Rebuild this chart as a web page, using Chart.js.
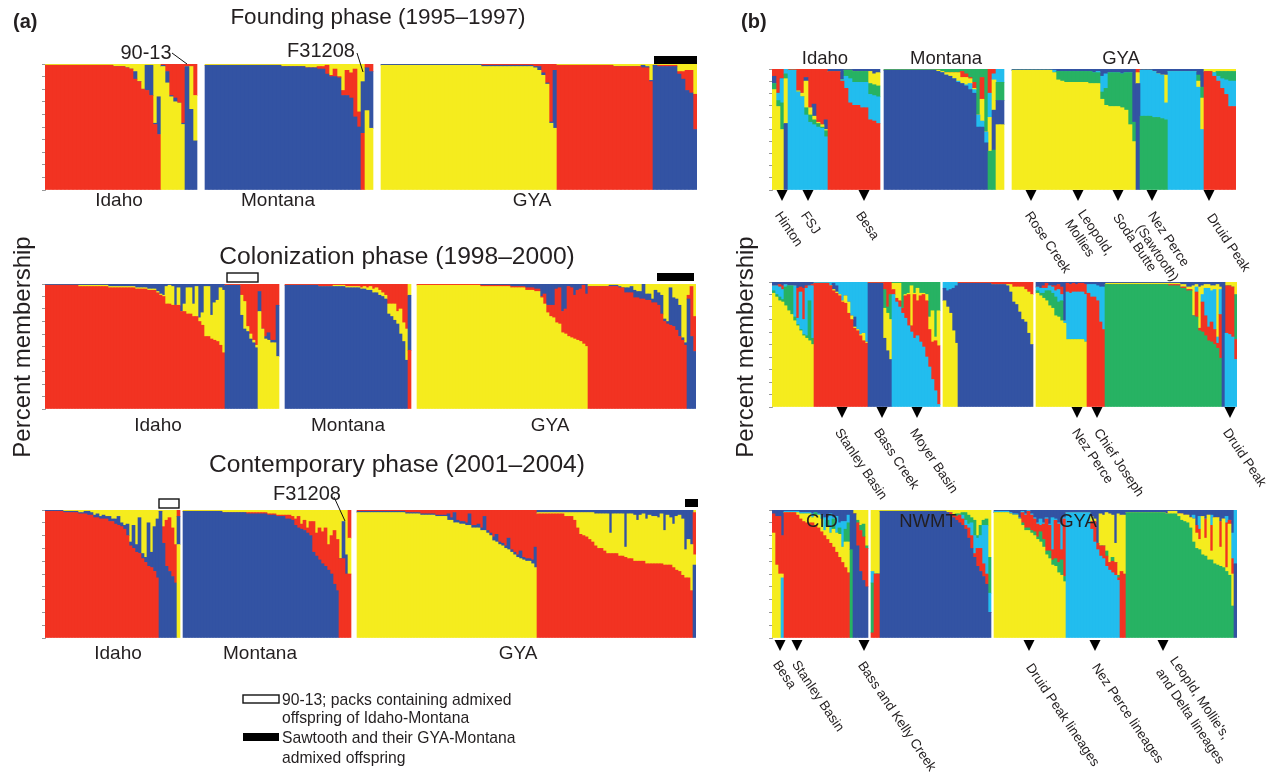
<!DOCTYPE html>
<html>
<head>
<meta charset="utf-8">
<script src="https://cdn.jsdelivr.net/npm/chart.js@4"></script>
<style>
  html, body { margin: 0; background: #fff; }
  #page { position: relative; width: 1272px; height: 773px; overflow: hidden; font-family: "Liberation Sans", Arial, sans-serif; color: #231f20; }
  #page canvas { position: absolute; }
  #marks { position: absolute; left: 0; top: 0; }
  .t { position: absolute; white-space: nowrap; line-height: 1; z-index: 2; }
</style>
</head>
<body>
<div id="page"></div>
<script>
const RED = '#f23322', BLU = '#3353a3', YEL = '#f5ec1e', GRN = '#27b263', CYA = '#22bdee';

// (a) founding phase
const fIdRed_red = [99,99,99,99,99,99,99,99,99,99,99,99,99,99,99,99,99,98,98,98,97,96,88,86,80,79,75,52,44];
const fIdRed_blu = [0,0,0,0,0,0,0,0,0,0,0,0,0,0,0,0,0,0,0,0,0,0,6,0,0,20,24,1,30];
const fIdYel_yel = [98,85,74,70,69,52];
const fIdYel_blu = [1,9,1,3,0,1];
const fIdBlu_blu = [98,64,39];
const fIdBlu_yel = [0,34,36];
const fMtBlu_blu = [99,99,99,99,99,99,99,99,99,99,99,99,99,99,99,99,99,99,99,98,98,98,98,98,98,97,97,97,96,96,92,90,90,89,75,75,73,58,50];
const fMtBlu_red = [0,0,0,0,0,0,0,0,0,0,0,0,0,0,0,0,0,0,0,0,0,0,0,0,0,0,0,0,2,2,7,1,6,1,4,20,20,38,12];
const fMtRed_red = [45];
const fMtRed_blu = [41];
const fMtYel_yel = [63,49];
const fMtYel_blu = [34,45];
const fGyYel_yel = [99,99,99,99,99,99,99,99,99,99,99,99,99,99,99,99,99,99,99,99,99,99,99,99,99,98,98,98,98,98,98,98,98,98,98,98,98,98,97,95,91,84,53,49];
const fGyYel_blu = [1,1,1,1,1,1,1,1,1,1,1,1,1,1,1,1,1,1,1,1,1,1,1,1,1,1,1,1,1,1,1,1,1,1,1,1,1,1,1,3,2,1,1,46];
const fGyRed_red = [99,99,99,99,99,99,99,99,99,99,99,99,99,99,98,98,98,98,98,98,98,97,97,86];
const fGyRed_blu = [0,0,0,0,0,0,0,0,0,0,0,0,0,0,0,0,0,0,0,0,0,2,1,1];
const fGyBlu_blu = [99,98,98,98,98,98,92,88,79,77,48];
const fGyBlu_red = [0,1,1,1,1,1,2,6,16,18,28];

// (a) colonization phase
const cIdRed_red = [99,99,99,99,99,99,99,99,99,99,99,98,98,98,98,98,98,98,98,98,98,97,97,97,97,97,97,97,97,97,96,96,96,96,95,95,95,93,91,90,84,84,83,83,83,78,78,76,76,74,74,70,67,58,58,56,55,54,51,45];
const cIdRed_yel = [0,0,0,0,0,0,0,0,0,0,0,1,1,1,1,1,1,1,1,1,1,1,1,1,1,1,1,1,1,1,1,1,1,1,1,1,1,1,1,1,14,15,15,0,14,0,6,21,21,10,24,3,10,40,40,19,30,33,46,50];
const cIdBlu_blu = [99,99,99,99,99,75,64,62,56,53,49];
const cIdBlu_yel = [0,0,0,0,0,16,22,4,4,2,2];
const cIdYel_yel = [78,64,56,55,53,53,42];
const cIdYel_blu = [16,0,2,6,2,2,41];
const cMtBlu_blu = [99,99,99,99,99,99,99,99,99,99,99,98,98,98,98,98,98,98,98,98,97,97,97,97,97,96,96,95,95,93,93,91,90,88,76,74,71,68,60,54,39];
const cMtBlu_yel = [0,0,0,0,0,0,0,0,0,0,0,0,0,0,0,0,1,1,1,1,1,1,1,1,1,1,2,2,3,3,4,4,3,3,8,10,13,10,20,15,25];
const cMtRed_red = [47];
const cMtRed_blu = [44];
const cGyYel_yel = [99,99,99,99,99,99,99,99,99,99,99,99,99,99,99,99,99,99,99,99,99,98,98,98,98,98,98,98,98,98,98,97,97,97,97,97,95,95,95,94,94,89,84,77,74,73,69,68,61,60,58,57,56,55,54,52,50];
const cGyYel_red = [1,1,1,1,1,1,1,1,1,1,1,1,1,1,1,1,1,1,1,1,1,1,1,1,1,1,1,1,1,1,1,1,1,1,1,1,2,2,2,2,2,1,8,6,9,10,27,29,17,20,40,40,35,40,42,47,42];
const cGyRed_red = [98,98,98,98,98,98,98,98,98,98,97,97,93,93,93,89,89,88,88,87,87,85,85,83,76,70,68,67,66,63,58,55,51];
const cGyRed_blu = [0,0,0,0,0,0,0,1,1,1,1,0,4,4,5,6,5,6,12,5,5,3,10,10,15,2,2,30,23,25,25,2,2];
const cGyBlu_blu = [88,58,46];
const cGyBlu_red = [3,40,28];

// (a) contemporary phase
const nIdRed_red = [99,99,99,99,99,99,98,98,98,98,98,97,97,97,96,96,94,94,93,93,93,91,91,89,88,87,85,80,72,70,67,66,62,59,56,55,52,47];
const nIdRed_blu = [1,1,1,1,1,1,1,1,1,1,1,1,1,2,3,2,2,3,2,3,2,4,2,4,7,3,3,9,3,18,6,28,4,4,34,12,35,46];
const nIdBlu_blu = [99,74,56,52,48,43];
const nIdBlu_red = [0,13,36,42,38,30];
const nIdYel_yel = [73];
const nIdYel_blu = [22];
const nMtBlu_blu = [99,99,99,99,99,99,99,99,99,99,99,99,99,98,98,98,98,98,98,98,98,97,97,97,97,97,97,97,96,96,96,95,95,95,93,93,92,88,86,85,84,82,80,67,64,61,58,56,53,50,42,37];
const nMtBlu_red = [0,0,0,0,0,0,0,0,0,0,0,0,0,0,0,0,0,0,0,0,0,1,1,1,1,1,1,1,1,1,1,1,1,1,3,3,3,5,9,4,8,4,11,24,18,25,25,30,20,30,42,40];
const nMtRed_red = [62,62,50];
const nMtRed_blu = [0,29,15];
const nMtEnd_red = [50];
const nMtEnd_yel = [28];
const nGyYel_yel = [98,98,98,98,98,98,98,98,98,98,98,98,98,98,98,98,97,97,97,97,97,96,96,96,96,96,95,95,95,95,92,92,90,90,89,89,88,88,86,86,86,84,84,82,80,76,75,73,72,70,69,67,65,63,62,61,60,60,58,55];
const nGyYel_blu = [1,1,1,1,1,1,1,1,1,1,1,1,1,1,1,1,1,1,1,1,1,1,1,1,1,1,1,1,1,1,5,2,8,2,2,2,2,9,2,2,3,2,11,2,2,3,6,2,2,2,9,2,2,2,6,2,2,2,3,16];
const nGyRed_red = [97,97,97,97,97,97,97,97,97,95,95,95,92,86,81,80,79,77,75,72,70,70,68,66,66,66,66,64,64,63,62,62,60,60,60,60,58,58,58,58,58,58,57,57,57,55,53,52,49,47,47,37];
const nGyRed_yel = [1,1,1,1,1,1,1,1,1,3,3,3,6,12,17,18,19,21,23,25,27,27,29,31,16,31,31,33,33,8,35,35,36,32,36,37,35,38,37,37,36,39,27,39,37,34,42,44,44,22,30,36];
const nGyBlu_blu = [57];
const nGyBlu_yel = [8];
const nGyBlu_red = [33];

// (b) founding phase
const bfIdYel_yel = [83,69,50];
const bfIdYel_grn = [5,5,22];
const bfIdYel_cya = [0,6,20];
const bfIdYel_blu = [6,0,0];
const bfIdBlu_blu = [55];
const bfIdBlu_yel = [37];
const bfIdBlu_grn = [4];
const bfIdCya_cya = [99,99,81,77,62,56,54,52,51,44];
const bfIdCya_grn = [0,0,0,0,6,6,4,3,1,5];
const bfIdCya_yel = [0,0,1,3,22,6,3,1,2,1];
const bfIdCya_blu = [0,0,0,0,3,0,10,0,0,8];
const bfIdRed_red = [98,98,98,90,84,72,70,70,68,68,58,57,55];
const bfIdRed_cya = [0,0,0,1,10,20,19,19,21,21,21,21,22];
const bfIdRed_grn = [0,0,0,0,5,7,9,9,9,9,9,9,9];
const bfIdRed_yel = [0,0,0,0,0,0,0,0,0,0,10,9,11];
const bfMtBlu_blu = [99,99,99,99,99,99,99,99,99,99,99,99,99,98,97,95,94,92,89,88,86,83,80,52,52,39];
const bfMtBlu_cya = [0,0,0,0,0,0,0,0,0,0,0,0,0,0,0,0,0,0,1,0,1,5,3,10,5,9];
const bfMtBlu_yel = [0,0,0,0,0,0,0,0,0,0,0,0,0,1,1,2,3,5,7,5,6,4,1,0,18,0];
const bfMtBlu_red = [0,0,0,0,0,0,0,0,0,0,0,0,0,0,0,0,0,0,0,5,3,1,5,0,18,0];
const bfMtGrn_grn = [32,33];
const bfMtGrn_blu = [0,33];
const bfMtGrn_yel = [28,25];
const bfMtGrn_cya = [20,5];
const bfMtYel_yel = [54,54];
const bfMtYel_blu = [20,20];
const bfMtYel_grn = [15,15];
const bfGyYel_yel = [99,99,99,99,99,99,99,99,99,99,97,91,90,89,89,89,89,89,89,88,88,88,75,70,69,69,69,68,66,54,40];
const bfGyYel_grn = [0,0,0,0,0,0,0,0,0,0,0,7,8,9,9,9,9,9,9,10,9,9,6,14,28,28,28,28,31,43,16];
const bfGyYel_cya = [0,0,0,0,0,0,0,0,0,0,2,0,0,0,0,0,0,0,0,0,0,1,13,12,0,0,0,0,0,0,0];
const bfGyBlu_blu = [88];
const bfGyBlu_yel = [9];
const bfGyGrn_grn = [61,61,61,60,60,59,58];
const bfGyGrn_cya = [38,38,38,38,36,36,14];
const bfGyGrn_yel = [0,0,0,0,0,0,23];
const bfGyCya_cya = [98,98,98,98,98,98,98,85,50];
const bfGyCya_yel = [0,0,0,0,0,0,0,5,26];
const bfGyCya_grn = [0,0,0,0,0,0,0,5,9];
const bfGyRed_red = [98,98,94,90,84,79,69,69];
const bfGyRed_cya = [0,0,3,4,8,12,21,21];
const bfGyRed_grn = [0,0,0,4,6,7,8,8];

// (b) colonization phase
const bcIdYel_yel = [91,88,85,84,81,77,74,69,65,61,57,55,53,50];
const bcIdYel_grn = [2,2,3,2,15,20,23,3,1,1,1,2,32,5];
const bcIdYel_cya = [4,7,8,8,2,0,0,25,5,30,12,38,12,42];
const bcIdYel_red = [0,0,2,3,0,0,0,0,24,4,25,2,0,1];
const bcIdRed_red = [99,99,99,99,99,97,93,91,89,84,83,75,70,63,61,57,53,51];
const bcIdRed_yel = [0,0,0,0,0,0,1,1,1,1,6,9,3,1,1,1,6,1];
const bcIdRed_blu = [0,0,0,0,0,0,5,5,0,0,0,0,0,8,0,0,0,0];
const bcIdBlu_blu = [99,99,99,99,99,55,45,38];
const bcIdBlu_yel = [0,0,0,0,0,24,30,32];
const bcIdBlu_grn = [0,0,0,0,0,15,5,20];
const bcIdCya_cya = [90,84,80,75,71,65,60,55,57,52,48,40,32,22,13,2];
const bcIdCya_red = [4,3,5,4,18,25,5,35,28,37,42,45,30,30,40,47];
const bcIdCya_yel = [5,12,14,0,1,1,32,1,10,2,1,5,10,25,3,28];
const bcMtYel_yel = [85,80,75,61,51];
const bcMtYel_blu = [10,13,19,34,46];
const bcMtBlu_blu = [99,99,99,99,99,99,99,99,99,99,99,98,98,98,98,98,97,92,84,82,76,70,68,59,50];
const bcMtBlu_yel = [0,0,0,0,0,0,0,0,0,0,0,0,0,0,0,0,1,6,12,14,20,26,26,33,40];
const bcGyYel_yel = [91,89,87,85,81,79,73,72,69,67,54,54,54,54,54,54,52];
const bcGyYel_grn = [2,2,4,8,12,12,15,12,16,0,0,0,0,0,0,0,0];
const bcGyYel_cya = [3,4,4,2,4,5,5,10,5,2,38,37,38,38,38,38,38];
const bcGyYel_red = [0,0,2,4,0,1,4,4,6,0,7,7,7,6,7,7,8];
const bcGyRed_red = [91,88,88,85,68,62];
const bcGyRed_cya = [7,10,10,12,28,34];
const bcGyGrn_grn = [98,98,98,98,98,98,98,98,98,98,98,98,98,98,98,98,98,98,98,98,98,97,97,97,97,95,95,93,93,73,72,61,60,57,53,52,50,47,39];
const bcGyGrn_red = [0,0,0,0,0,0,0,0,0,0,0,0,0,0,0,0,0,0,0,0,0,1,1,1,1,1,1,1,1,0,20,2,24,16,11,16,12,4,35];
const bcGyGrn_cya = [0,0,0,0,0,0,0,0,0,0,0,0,0,0,0,0,0,0,0,0,0,0,0,0,0,0,0,0,0,0,4,0,6,22,31,25,32,5,20];
const bcGyGrn_yel = [1,1,1,1,1,1,1,1,1,1,1,1,1,1,1,1,1,1,1,1,1,1,1,1,1,2,2,2,2,24,2,33,7,3,3,4,3,42,2];
const bcGyBlu_blu = [100];
const bcGyCya_cya = [59,58,56,38];
const bcGyCya_red = [38,39,40,16];
const bcGyCya_grn = [0,0,0,36];

// (b) contemporary phase
const bnIdYel_yel = [82,57,50];
const bnIdYel_red = [15,38,45];
const bnIdCya_cya = [47];
const bnIdCya_yel = [3];
const bnIdCya_red = [30];
const bnIdRed_red = [98,98,98,98,96,93,91,90,90,90,88,86,83,80,77,74,71,67,63,59,55,51];
const bnIdRed_yel = [0,0,0,0,2,4,6,7,7,4,8,10,10,4,10,8,14,15,18,12,20,24];
const bnIdRed_grn = [0,0,0,0,0,0,0,0,0,0,2,0,0,0,5,0,8,0,5,0,10,15];
const bnIdRed_cya = [1,1,1,1,1,1,1,1,1,3,0,1,3,10,2,15,1,13,4,20,6,6];
const bnIdGrn_grn = [69];
const bnIdBlu_blu = [97,72,52,45,40];
const bnIdBlu_red = [0,18,32,34,30];
const bnIdBlu_grn = [0,2,4,10,2];
const bnNwEdge_red = [4,50,50];
const bnNwEdge_grn = [39,0,0];
const bnNwEdge_cya = [9,0,0];
const bnNwBlu_blu = [99,99,99,99,99,99,99,99,99,99,99,99,99,99,99,99,99,99,99,99,99,99,98,96,94,92,90,88,85,78,70,63,56,52,48,42,20];
const bnNwBlu_red = [0,0,0,0,0,0,0,0,0,0,0,0,0,0,0,0,0,0,0,0,0,0,0,2,2,3,6,5,3,8,10,3,14,18,10,8,0];
const bnNwBlu_cya = [0,0,0,0,0,0,0,0,0,0,0,0,0,0,0,0,0,0,0,0,0,0,0,0,0,0,0,3,4,3,10,14,8,10,30,38,15];
const bnNwBlu_grn = [0,0,0,0,0,0,0,0,0,0,0,0,0,0,0,0,0,0,0,0,0,0,0,0,0,2,1,2,6,7,4,12,2,8,4,5,28];
const bnGyYel_yel = [98,98,98,98,98,97,96,96,93,88,84,84,82,80,77,75,71,65,62,57,56,51,49,44];
const bnGyYel_grn = [0,0,0,0,0,0,0,0,0,2,2,2,2,3,2,8,6,3,6,4,6,8,12,4];
const bnGyYel_red = [0,0,0,0,0,0,0,0,0,8,10,13,12,10,10,5,12,25,20,8,30,30,8,45];
const bnGyYel_cya = [1,1,1,1,1,1,1,1,1,1,1,1,1,1,1,5,1,1,1,25,1,1,20,1];
const bnGyCya_cya = [98,98,98,98,98,98,98,98,85,75,69,64,62,56,53,51,49,45];
const bnGyCya_red = [0,0,0,0,0,0,0,0,6,16,5,8,10,8,6,9,10,2];
const bnGyCya_grn = [0,0,0,0,0,0,0,0,0,0,0,0,0,4,0,3,0,2];
const bnGyCya_yel = [0,0,0,0,0,0,0,0,4,2,0,25,24,30,38,33,15,48];
const bnGyRed_red = [52,50];
const bnGyRed_yel = [44,46];
const bnGyGrn_grn = [98,98,98,98,98,98,98,98,98,98,98,98,98,97,97,97,97,95,92,91,90,86,75,70,69,65,64,61,61,58,57,56,55,52,49,25];
const bnGyGrn_yel = [0,0,0,0,0,0,0,0,0,0,0,0,0,0,2,2,2,2,5,5,6,8,18,12,8,30,14,35,7,36,37,15,38,3,40,25];
const bnGyGrn_red = [0,0,0,0,0,0,0,0,0,0,0,0,0,0,0,0,0,0,0,0,0,0,0,6,8,0,15,0,20,0,0,20,0,35,3,12];
const bnGyGrn_cya = [0,0,0,0,0,0,0,0,0,0,0,0,0,0,0,0,0,0,0,0,0,0,3,0,10,0,0,0,8,0,0,0,0,5,0,20];
const bnGyBlu_blu = [58];

// colours are bottom to top; the last one fills the bar up to 100
function seg(colors, ...layers) { return { colors, layers }; }
function gap(n) { return { gap: n }; }

function drawRow(left, top, colW, plotH, parts) {
  const labels = [], columns = [];
  parts.forEach(p => {
    if (p.gap) { for (let i = 0; i < p.gap; i++) columns.push(null); return; }
    p.layers[0].forEach((_, i) => {
      const vals = p.layers.map(l => l[i] || 0);
      const used = vals.reduce((a, b) => a + b, 0);
      vals.push(Math.max(0, 100 - used));
      columns.push({ vals, colors: p.colors });
    });
  });
  columns.forEach((_, i) => labels.push(i));
  const nLayers = Math.max(...columns.map(c => c ? c.vals.length : 0));
  const datasets = [];
  for (let k = 0; k < nLayers; k++) {
    datasets.push({
      data: columns.map(c => (c && k < c.vals.length) ? c.vals[k] : 0),
      backgroundColor: columns.map(c => (c && k < c.colors.length) ? c.colors[k] : 'rgba(0,0,0,0)'),
      borderWidth: 0, barPercentage: 1, categoryPercentage: 1
    });
  }
  const cv = document.createElement('canvas');
  cv.width = columns.length * colW + 3;
  cv.height = plotH + 2;
  cv.style.left = (left - 3) + 'px';
  cv.style.top = (top - 1) + 'px';
  document.getElementById('page').appendChild(cv);
  new Chart(cv.getContext('2d'), {
    type: 'bar',
    data: { labels, datasets },
    options: {
      responsive: false, animation: false,
      layout: { padding: { top: 1, bottom: 1 } },
      plugins: { legend: { display: false }, tooltip: { enabled: false } },
      scales: {
        x: { stacked: true, display: false },
        y: {
          stacked: true, min: 0, max: 100,
          afterFit: s => { s.width = 3; },
          ticks: { display: false, stepSize: 10 },
          grid: { drawOnChartArea: false, drawTicks: true, tickLength: 3, color: '#999' },
          border: { color: '#aaa' }
        }
      }
    }
  });
}

drawRow(45, 64, 4, 126, [
  seg([RED,BLU,YEL], fIdRed_red, fIdRed_blu),
  seg([YEL,BLU,RED], fIdYel_yel, fIdYel_blu),
  seg([BLU,YEL,RED], fIdBlu_blu, fIdBlu_yel),
  gap(2),
  seg([BLU,RED,YEL], fMtBlu_blu, fMtBlu_red),
  seg([RED,BLU,YEL], fMtRed_red, fMtRed_blu),
  seg([YEL,BLU,RED], fMtYel_yel, fMtYel_blu),
  gap(2),
  seg([YEL,BLU,RED], fGyYel_yel, fGyYel_blu),
  seg([RED,BLU,YEL], fGyRed_red, fGyRed_blu),
  seg([BLU,RED,YEL], fGyBlu_blu, fGyBlu_red)
]);
drawRow(45, 284, 3, 125, [
  seg([RED,YEL,BLU], cIdRed_red, cIdRed_yel),
  seg([BLU,YEL,RED], cIdBlu_blu, cIdBlu_yel),
  seg([YEL,BLU,RED], cIdYel_yel, cIdYel_blu),
  gap(2),
  seg([BLU,YEL,RED], cMtBlu_blu, cMtBlu_yel),
  seg([RED,BLU,YEL], cMtRed_red, cMtRed_blu),
  gap(2),
  seg([YEL,RED,BLU], cGyYel_yel, cGyYel_red),
  seg([RED,BLU,YEL], cGyRed_red, cGyRed_blu),
  seg([BLU,RED,YEL], cGyBlu_blu, cGyBlu_red)
]);
drawRow(45, 510, 3, 128, [
  seg([RED,BLU,YEL], nIdRed_red, nIdRed_blu),
  seg([BLU,RED,YEL], nIdBlu_blu, nIdBlu_red),
  seg([YEL,BLU,RED], nIdYel_yel, nIdYel_blu),
  gap(1),
  seg([BLU,RED,YEL], nMtBlu_blu, nMtBlu_red),
  seg([RED,BLU,YEL], nMtRed_red, nMtRed_blu),
  seg([RED,YEL,RED], nMtEnd_red, nMtEnd_yel),
  gap(2),
  seg([YEL,BLU,RED], nGyYel_yel, nGyYel_blu),
  seg([RED,YEL,BLU], nGyRed_red, nGyRed_yel),
  seg([BLU,YEL,RED,YEL], nGyBlu_blu, nGyBlu_yel, nGyBlu_red)
]);
drawRow(772, 69, 4, 121, [
  seg([YEL,GRN,CYA,BLU,RED], bfIdYel_yel, bfIdYel_grn, bfIdYel_cya, bfIdYel_blu),
  seg([BLU,YEL,GRN,CYA], bfIdBlu_blu, bfIdBlu_yel, bfIdBlu_grn),
  seg([CYA,GRN,YEL,BLU,RED], bfIdCya_cya, bfIdCya_grn, bfIdCya_yel, bfIdCya_blu),
  seg([RED,CYA,GRN,YEL,BLU], bfIdRed_red, bfIdRed_cya, bfIdRed_grn, bfIdRed_yel),
  gap(1),
  seg([BLU,CYA,YEL,RED,GRN], bfMtBlu_blu, bfMtBlu_cya, bfMtBlu_yel, bfMtBlu_red),
  seg([GRN,BLU,YEL,CYA,RED], bfMtGrn_grn, bfMtGrn_blu, bfMtGrn_yel, bfMtGrn_cya),
  seg([YEL,BLU,GRN,CYA], bfMtYel_yel, bfMtYel_blu, bfMtYel_grn),
  gap(2),
  seg([YEL,GRN,CYA,BLU], bfGyYel_yel, bfGyYel_grn, bfGyYel_cya),
  seg([BLU,YEL,RED], bfGyBlu_blu, bfGyBlu_yel),
  seg([GRN,CYA,YEL,BLU], bfGyGrn_grn, bfGyGrn_cya, bfGyGrn_yel),
  seg([CYA,YEL,GRN,BLU], bfGyCya_cya, bfGyCya_yel, bfGyCya_grn),
  seg([RED,CYA,GRN,YEL], bfGyRed_red, bfGyRed_cya, bfGyRed_grn)
]);
drawRow(772, 282, 3, 125, [
  seg([YEL,GRN,CYA,RED,BLU], bcIdYel_yel, bcIdYel_grn, bcIdYel_cya, bcIdYel_red),
  seg([RED,YEL,BLU,CYA], bcIdRed_red, bcIdRed_yel, bcIdRed_blu),
  seg([BLU,YEL,GRN,RED], bcIdBlu_blu, bcIdBlu_yel, bcIdBlu_grn),
  seg([CYA,RED,YEL,GRN], bcIdCya_cya, bcIdCya_red, bcIdCya_yel),
  gap(1),
  seg([YEL,BLU,CYA], bcMtYel_yel, bcMtYel_blu),
  seg([BLU,YEL,RED], bcMtBlu_blu, bcMtBlu_yel),
  gap(1),
  seg([YEL,GRN,CYA,RED,BLU], bcGyYel_yel, bcGyYel_grn, bcGyYel_cya, bcGyYel_red),
  seg([RED,CYA,BLU], bcGyRed_red, bcGyRed_cya),
  seg([GRN,RED,CYA,YEL,BLU], bcGyGrn_grn, bcGyGrn_red, bcGyGrn_cya, bcGyGrn_yel),
  seg([BLU,BLU], bcGyBlu_blu),
  seg([CYA,RED,GRN,YEL], bcGyCya_cya, bcGyCya_red, bcGyCya_grn)
]);
drawRow(772, 510, 3, 128, [
  seg([YEL,RED,BLU], bnIdYel_yel, bnIdYel_red),
  seg([CYA,YEL,RED,BLU], bnIdCya_cya, bnIdCya_yel, bnIdCya_red),
  seg([RED,YEL,GRN,CYA,BLU], bnIdRed_red, bnIdRed_yel, bnIdRed_grn, bnIdRed_cya),
  seg([GRN,BLU], bnIdGrn_grn),
  seg([BLU,RED,GRN,YEL], bnIdBlu_blu, bnIdBlu_red, bnIdBlu_grn),
  gap(1),
  seg([RED,GRN,CYA,YEL], bnNwEdge_red, bnNwEdge_grn, bnNwEdge_cya),
  seg([BLU,RED,CYA,GRN,YEL], bnNwBlu_blu, bnNwBlu_red, bnNwBlu_cya, bnNwBlu_grn),
  gap(1),
  seg([YEL,GRN,RED,CYA,BLU], bnGyYel_yel, bnGyYel_grn, bnGyYel_red, bnGyYel_cya),
  seg([CYA,RED,GRN,YEL,BLU], bnGyCya_cya, bnGyCya_red, bnGyCya_grn, bnGyCya_yel),
  seg([RED,YEL,BLU], bnGyRed_red, bnGyRed_yel),
  seg([GRN,YEL,RED,CYA,BLU], bnGyGrn_grn, bnGyGrn_yel, bnGyGrn_red, bnGyGrn_cya),
  seg([BLU,CYA], bnGyBlu_blu)
]);

// text: string, x, y (centre line), font px, anchor, bold
const page = document.getElementById('page');
function text(s, x, y, size, anchor, bold) {
  const d = document.createElement('div');
  d.className = 't';
  d.textContent = s;
  d.style.left = x + 'px';
  d.style.top = (y - size / 2) + 'px';
  d.style.fontSize = size + 'px';
  if (anchor === 'c') d.style.transform = 'translateX(-50%)';
  if (bold) d.style.fontWeight = 'bold';
  page.appendChild(d);
}
function slanted(s, x, y) {
  const d = document.createElement('div');
  d.className = 't';
  d.textContent = s;
  d.style.left = (x + 3) + 'px';
  d.style.top = (y - 4) + 'px';
  d.style.fontSize = '13.5px';
  d.style.transformOrigin = '0 50%';
  d.style.transform = 'rotate(56deg)';
  page.appendChild(d);
}
function upright(s, x, y) {
  const d = document.createElement('div');
  d.className = 't';
  d.textContent = s;
  d.style.left = x + 'px';
  d.style.top = y + 'px';
  d.style.fontSize = '24px';
  d.style.transform = 'translate(-50%,-50%) rotate(-90deg)';
  page.appendChild(d);
}

text('(a)', 13, 21, 20, 'l', true);
text('(b)', 741, 21, 20, 'l', true);
text('Founding phase (1995–1997)', 378, 17, 22.5, 'c');
text('Colonization phase (1998–2000)', 397, 256, 24.6, 'c');
text('Contemporary phase (2001–2004)', 397, 464, 24.6, 'c');
text('90-13', 146, 52, 20, 'c');
text('F31208', 321, 50, 20, 'c');
text('F31208', 307, 493, 20, 'c');
upright('Percent membership', 22, 347);
upright('Percent membership', 745, 347);
[['Idaho',119,199],['Montana',278,199],['GYA',532,199],['Idaho',158,424],['Montana',348,424],['GYA',550,424],
 ['Idaho',118,652],['Montana',260,652],['GYA',518,652]].forEach(r => text(r[0], r[1], r[2], 19, 'c'));
[['Idaho',825,58],['Montana',946,58],['GYA',1121,58],
 ['CID',822,521],['NWMT',928,521],['GYA',1078,521]].forEach(r => text(r[0], r[1], r[2], 18.5, 'c'));
[['Hinton',775,210],['FSJ',801,210],['Besa',856,210],['Rose Creek',1025,210],['Leopold,',1078,208],['Mollies',1065,218],
 ['Soda Butte',1113,212],['Nez Perce',1148,210],['(Sawtooth)',1136,223],['Druid Peak',1207,212],
 ['Stanley Basin',835,427],['Bass Creek',874,427],['Moyer Basin',910,427],['Nez Perce',1072,427],['Chief Joseph',1094,427],['Druid Peak',1223,427],
 ['Besa',773,659],['Stanley Basin',792,659],['Bass and Kelly Creek',858,660],['Druid Peak lineages',1026,662],['Nez Perce lineages',1092,662],
 ['Leopld, Mollie\'s,',1170,655],['and Delta lineages',1156,667]].forEach(r => slanted(r[0], r[1], r[2]));
text('90-13; packs containing admixed', 282, 700, 15.7, 'l');
text('offspring of Idaho-Montana', 282, 718, 15.7, 'l');
text('Sawtooth and their GYA-Montana', 282, 738, 15.7, 'l');
text('admixed offspring', 282, 758, 15.7, 'l');

// markers on top of the plots
const tris = [[782,190],[808,190],[864,190],[1031,190],[1078,190],[1118,190],[1152,190],[1209,190],
  [842,407],[882,407],[917,407],[1077,407],[1097,407],[1230,407],
  [780,640],[797,640],[864,640],[1029,640],[1095,640],[1163,640]];
const blackBoxes = [[654,56,43,8],[657,273,37,8],[685,499,13,8],[243,733,36,8]];
const whiteBoxes = [[227,273,31,9],[159,499,20,9],[243,695,36,8]];
const leaders = [[172,53,187,64],[357,53,363,72],[334,497,345,521]];
let svg = '';
tris.forEach(t => { svg += `<polygon points="${t[0]-5.5},${t[1]} ${t[0]+5.5},${t[1]} ${t[0]},${t[1]+11}" fill="#000"/>`; });
blackBoxes.forEach(b => { svg += `<rect x="${b[0]}" y="${b[1]}" width="${b[2]}" height="${b[3]}" fill="#000"/>`; });
whiteBoxes.forEach(b => { svg += `<rect x="${b[0]}" y="${b[1]}" width="${b[2]}" height="${b[3]}" fill="#fff" stroke="#111" stroke-width="1.4"/>`; });
leaders.forEach(l => { svg += `<line x1="${l[0]}" y1="${l[1]}" x2="${l[2]}" y2="${l[3]}" stroke="#111" stroke-width="1"/>`; });
page.insertAdjacentHTML('beforeend', `<svg id="marks" width="1272" height="773" style="z-index:1">${svg}</svg>`);
</script>
</body>
</html>
